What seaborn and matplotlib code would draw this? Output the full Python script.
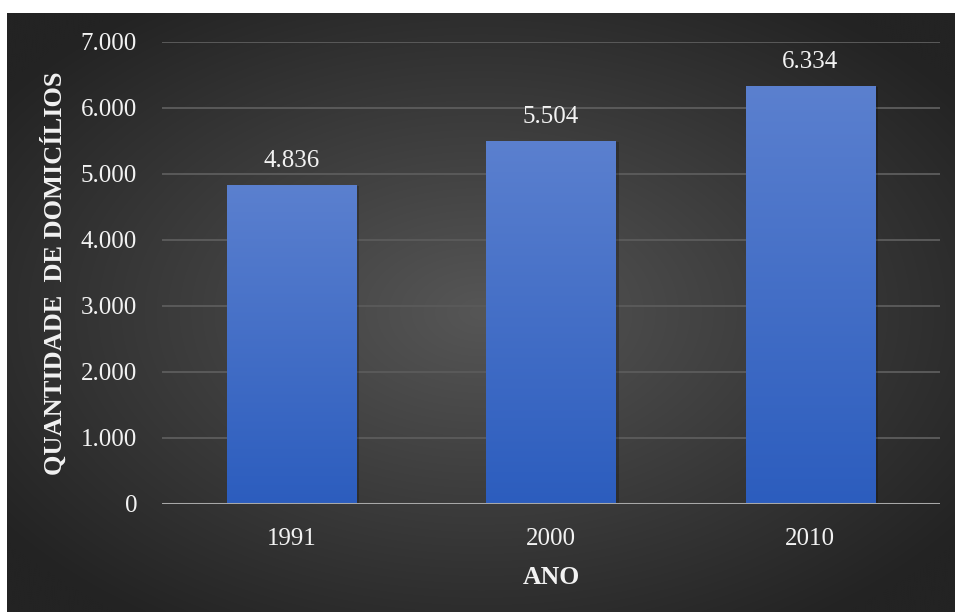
import numpy as np
import pandas as pd
import matplotlib
matplotlib.use("Agg")
import matplotlib.pyplot as plt
import matplotlib.patheffects as pe
import seaborn as sns

# Domicílios por ano censitário
anos = ["1991", "2000", "2010"]
domicilios = [4836, 5504, 6334]
y_ticks = [0, 1000, 2000, 3000, 4000, 5000, 6000, 7000]
y_tick_labels = ["0", "1.000", "2.000", "3.000", "4.000", "5.000", "6.000", "7.000"]

df = pd.DataFrame({"ano": anos, "domicilios": domicilios})

sns.set_theme(style="dark")
plt.rcParams["font.family"] = ["Liberation Serif", "DejaVu Serif"]

W, H = 955, 612
fig = plt.figure(figsize=(W / 100, H / 100), dpi=100, facecolor="white")

# dark radial background panel
bg = fig.add_axes([7 / W, 0, 1 - 7 / W, 1 - 13 / H])
bg.set_axis_off()
yy, xx = np.mgrid[-1:1:300j, -1:1:500j]
r = np.sqrt(xx ** 2 + yy ** 2)
light = np.array([0x56, 0x56, 0x56]) / 255
dark = np.array([0x23, 0x23, 0x23]) / 255
t = np.clip(r / 1.25, 0, 1)[..., None]
img = light * (1 - t) + dark * t
bg.imshow(img, aspect="auto", extent=[0, 1, 0, 1], interpolation="bicubic")

ax = fig.add_axes([162 / W, 1 - 504 / H, (940 - 162) / W, (504 - 42) / H])
ax.patch.set_alpha(0)

sns.barplot(data=df, x="ano", y="domicilios", ax=ax, width=0.5,
            color="#4472c4", saturation=1, zorder=3)

ax.set_ylim(0, 7000)
ax.set_xlim(-0.5, len(anos) - 0.5)
ax.set_yticks(y_ticks)
ax.set_yticklabels(y_tick_labels)

# vertical gradient fill and soft shadow on each bar
grad = np.linspace(0, 1, 256)[:, None]
top_c = np.array([0x5b, 0x80, 0xcf]) / 255
bot_c = np.array([0x2c, 0x5d, 0xbe]) / 255
grad_img = top_c * (1 - grad[..., None]) + bot_c * grad[..., None]
for bar, val in zip(ax.patches, domicilios):
    bar.set_edgecolor("none")
    bar.set_path_effects([pe.SimplePatchShadow(offset=(2, -1), shadow_rgbFace="black", alpha=0.22),
                          pe.Normal()])
    x0, y0 = bar.get_x(), bar.get_y()
    w, h = bar.get_width(), bar.get_height()
    im = ax.imshow(grad_img, extent=[x0, x0 + w, y0, y0 + h], aspect="auto",
                   zorder=4, interpolation="bilinear")
    im.set_clip_path(bar)
    ax.text(x0 + w / 2, val + 200, f"{val:,}".replace(",", "."),
            ha="center", va="bottom", color="#f2f2f2", fontsize=18, zorder=5)

ax.set_xlim(-0.5, len(anos) - 0.5)
ax.set_ylim(0, 7000)

# grid and baseline
for yv in y_ticks[1:]:
    ax.axhline(yv, color="#5a5a5a", lw=1.4, zorder=1)
ax.axhline(0, color="#a8a8a8", lw=2.2, zorder=6)
for s in ax.spines.values():
    s.set_visible(False)
ax.grid(False)

ax.tick_params(axis="both", length=0, colors="#f2f2f2", labelsize=18)
ax.tick_params(axis="y", pad=18)
ax.tick_params(axis="x", pad=17)

ax.set_xlabel("ANO", color="#f2f2f2", fontsize=18.5, fontweight="bold", labelpad=12)
ax.set_ylabel("QUANTIDADE  DE DOMICÍLIOS", color="#f2f2f2", fontsize=19,
              fontweight="bold", labelpad=10)

fig.savefig("out.png", dpi=100, facecolor="white")
